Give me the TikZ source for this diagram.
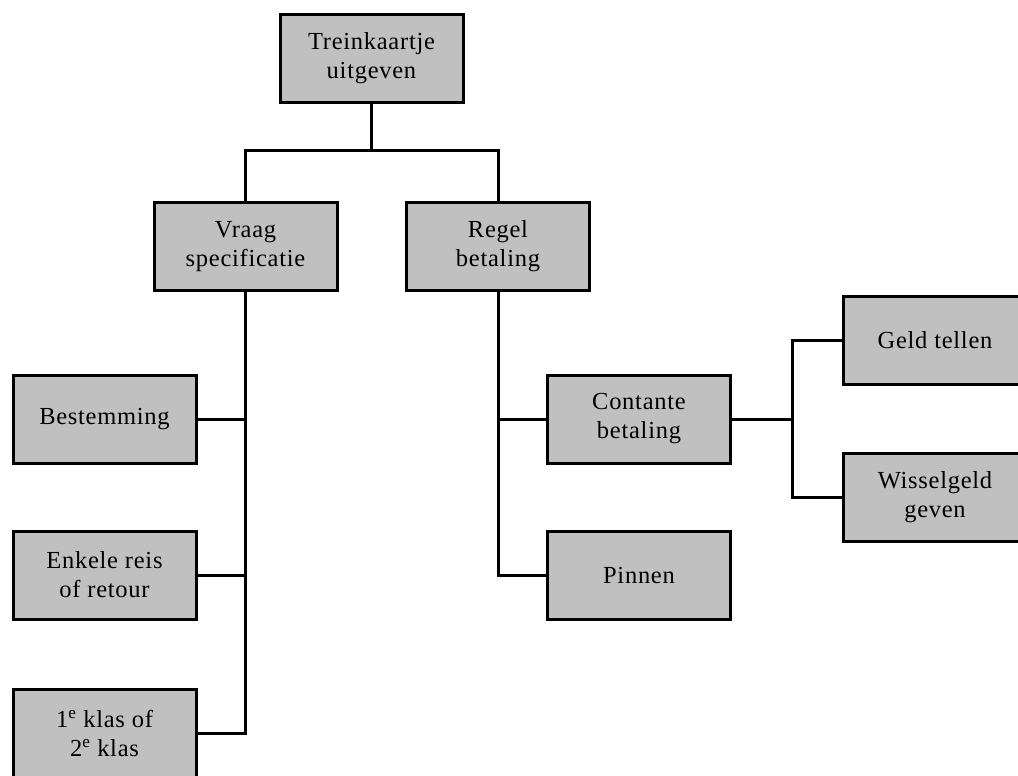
\documentclass[tikz,border=0pt]{standalone}
\usepackage{fontspec}
\setmainfont{Liberation Serif}[LetterSpace=3]
\definecolor{boxgray}{HTML}{C0C0C0}
\begin{document}
\begin{tikzpicture}[x=1pt,y=-1pt,
  box/.style={draw=black, line width=3pt, fill=boxgray, minimum width=183pt, minimum height=88pt, inner sep=0pt, align=center, font=\fontsize{24.5}{29}\selectfont},
  conn/.style={draw=black, line width=3pt, line join=miter}]
\useasboundingbox (0,0) rectangle (1018,776);
\node[box] (T) at (371.5,58.5) {Treinkaartje\\uitgeven};
\node[box] (V) at (245.5,246.5) {Vraag\\specificatie};
\node[box] (R) at (498,246.5) {Regel\\betaling};
\node[box] (B) at (104.5,419.5) {Bestemming};
\node[box] (E) at (104.5,575) {Enkele reis\\of retour};
\node[box] (K) at (104.5,733.5) {1\textsuperscript{e} klas of\\2\textsuperscript{e} klas};
\node[box] (C) at (639,419) {Contante\\betaling};
\node[box] (P) at (639,575.5) {Pinnen};
\node[box] (G) at (935,340.5) {Geld tellen};
\node[box] (W) at (935,497) {Wisselgeld\\geven};
\coordinate (j1) at (371.5,150);
\coordinate (j2) at (792,419);
\draw[conn] (T.south) -- (j1);
\draw[conn] (V.north) |- (j1) -| (R.north);
\draw[conn] (V.south) |- (K.east);
\draw[conn] (B.east) -- (B.east -| V.south);
\draw[conn] (E.east) -- (E.east -| V.south);
\draw[conn] (R.south) |- (P.west);
\draw[conn] (C.west) -- (C.west -| R.south);
\draw[conn] (C.east) -- (j2);
\draw[conn] (G.west) -| (j2) |- (W.west);
\end{tikzpicture}
\end{document}
